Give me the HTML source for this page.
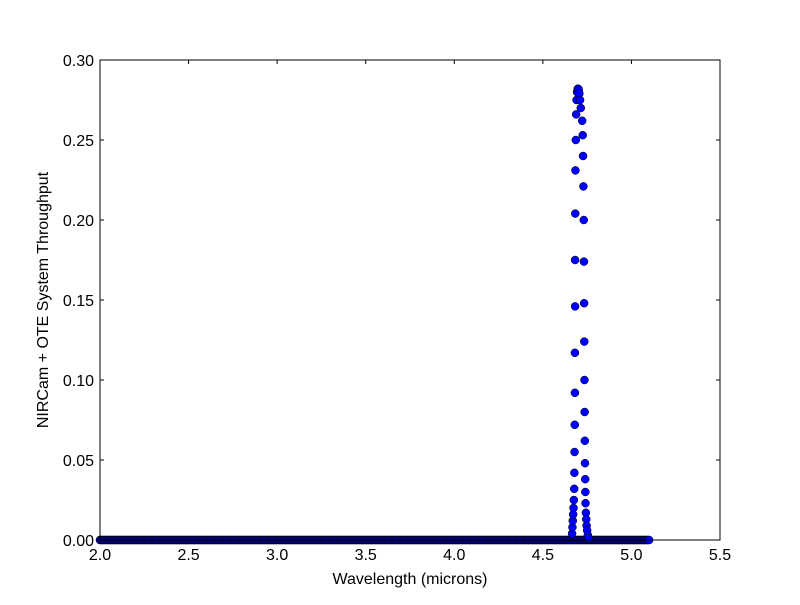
<!DOCTYPE html>
<html><head><meta charset="utf-8"><style>
body{margin:0;background:#fff}
svg text{font-family:"Liberation Sans",sans-serif;font-size:16px;fill:#000}
</style></head><body>
<svg id="chart" width="800" height="600">
<rect width="800" height="600" fill="#fff"/>
<g id="ticks"></g>
<g id="marks"></g>
<rect x="100" y="60" width="620" height="480" fill="none" stroke="#000" stroke-width="1"/>
<text x="410" y="584" text-anchor="middle">Wavelength (microns)</text>
<text transform="translate(48,300) rotate(-90)" text-anchor="middle">NIRCam + OTE System Throughput</text>
</svg>
<script>
const xTicks=[2.0,2.5,3.0,3.5,4.0,4.5,5.0,5.5];
const yTicks=[0.00,0.05,0.10,0.15,0.20,0.25,0.30];
const peakWave=[4.665,4.667,4.669,4.671,4.673,4.675,4.677,4.678,4.679,4.680,4.681,4.681,4.682,4.682,4.683,4.684,4.686,4.688,4.690,4.693,4.697,
 4.700,4.703,4.706,4.710,4.714,4.722,4.725,4.727,4.729,4.731,4.732,4.733,4.734,4.735,4.736,4.737,4.738,4.739,4.740,4.741,4.743,4.745,4.747,4.750,4.754,4.758];
const peakThru=[0.004,0.008,0.012,0.016,0.020,0.025,0.032,0.042,0.055,0.072,0.092,0.117,0.146,0.175,0.204,0.231,0.250,0.266,0.275,0.280,0.282,
 0.282,0.281,0.279,0.275,0.270,0.262,0.253,0.240,0.221,0.200,0.174,0.148,0.124,0.100,0.080,0.062,0.048,0.038,0.030,0.023,0.017,0.013,0.009,0.006,0.003,0.001];
const baseStart=2.0, baseEnd=5.1, baseStep=0.005, baseValue=0.0;
const xs=v=>100+(v-2.0)/3.5*620;
const ys=v=>540-v/0.30*480;
const NS="http://www.w3.org/2000/svg";
const tg=document.getElementById('ticks'), mg=document.getElementById('marks');
function mk(t,a,p){const e=document.createElementNS(NS,t);for(const k in a)e.setAttribute(k,a[k]);p.appendChild(e);return e;}
xTicks.forEach(v=>{const x=xs(v);
 const l1=mk('line',{x1:x,x2:x,y1:540,y2:536,stroke:'#000'},tg);
 
 
 const l2=mk('line',{x1:x,x2:x,y1:60,y2:64,stroke:'#000'},tg);
 
 
 const t=mk('text',{x:x,y:560,'text-anchor':'middle'},tg);t.textContent=v.toFixed(1);
 
 });
yTicks.forEach(v=>{const y=ys(v);
 const l1=mk('line',{x1:100,x2:104,y1:y,y2:y,stroke:'#000'},tg);
 
 
 const l2=mk('line',{x1:716,x2:720,y1:y,y2:y,stroke:'#000'},tg);
 
 
 const t=mk('text',{x:94,y:y+6,'text-anchor':'end'},tg);t.textContent=v.toFixed(2);
 
 });
function pt(w,v){const c=mk('circle',{cx:xs(w),cy:ys(v),r:4,fill:'#0000ff',stroke:'#000','stroke-width':0.5},mg);
 
 }
for(let w=baseStart;w<=baseEnd+1e-9;w+=baseStep)pt(w,baseValue);
peakWave.forEach((w,i)=>pt(w,peakThru[i]));
</script>
</body></html>
